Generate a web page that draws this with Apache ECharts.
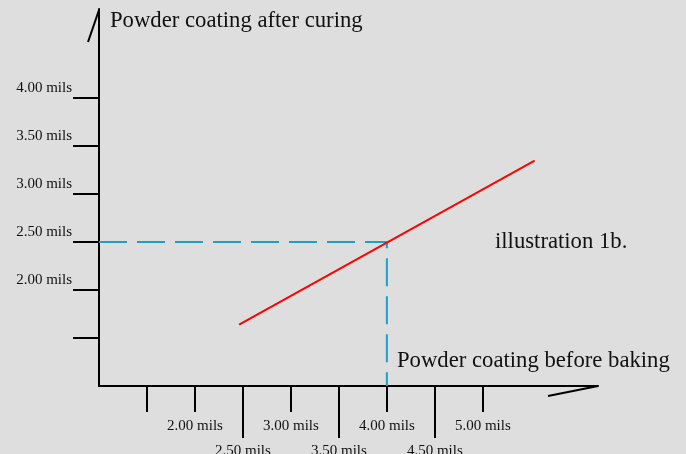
<!DOCTYPE html>
<html>
<head>
<meta charset="utf-8">
<script src="https://cdn.jsdelivr.net/npm/echarts@6/dist/echarts.min.js"></script>
<style>
html, body { margin: 0; padding: 0; background: #dedede; }
#main { width: 686px; height: 454px; }
</style>
</head>
<body>
<div id="main"></div>
<script>
// coating thickness, mils
const beforeBaking = [2.46, 5.54];
const afterCuring = [1.64, 3.35];
const guideX = [1.0, 4.0, 4.0];
const guideY = [2.5, 2.5, 1.0];

const xShortTicks = [1.5, 2.0, 3.0, 4.0, 5.0];
const xShortLabels = [2.0, 3.0, 4.0, 5.0];
const xLongTicks = [2.5, 3.5, 4.5];
const yTicks = [1.5, 2.0, 2.5, 3.0, 3.5, 4.0];
const yLabels = [2.0, 2.5, 3.0, 3.5, 4.0];

const chart = echarts.init(document.getElementById('main'));
const serif = 'Liberation Serif';
const mils = function (v) { return v.toFixed(2) + ' mils'; };

const pair = function (xs, ys) {
    let out = [];
    for (let i = 0; i < xs.length; i++) out.push([xs[i], ys[i]]);
    return out;
};

const baseX = {
    type: 'value',
    position: 'bottom',
    min: 1,
    max: 6.2,
    splitLine: { show: false },
    axisLine: { show: false }
};

option = {
    backgroundColor: '#dedede',
    animation: false,
    grid: { left: 99, right: 88, top: 9, bottom: 68, outerBoundsMode: 'none', containLabel: false },
    xAxis: [
        Object.assign({}, baseX, {
            axisLine: { show: true, lineStyle: { color: '#000', width: 2 } },
            axisTick: { show: true, length: 26, customValues: xShortTicks, lineStyle: { color: '#000', width: 2 } },
            axisLabel: {
                customValues: xShortLabels, margin: 33, formatter: mils,
                color: '#111', fontFamily: serif, fontSize: 15, verticalAlign: 'top'
            }
        }),
        Object.assign({}, baseX, {
            axisTick: { show: true, length: 52, customValues: xLongTicks, lineStyle: { color: '#000', width: 2 } },
            axisLabel: {
                customValues: xLongTicks, margin: 58, formatter: mils,
                color: '#111', fontFamily: serif, fontSize: 15, verticalAlign: 'top'
            }
        })
    ],
    yAxis: {
        type: 'value',
        min: 1,
        max: 4.93,
        splitLine: { show: false },
        axisLine: { show: true, lineStyle: { color: '#000', width: 2 } },
        axisTick: { show: true, length: 26, customValues: yTicks, lineStyle: { color: '#000', width: 2 } },
        axisLabel: {
            customValues: yLabels, margin: 27, formatter: mils,
            color: '#111', fontFamily: serif, fontSize: 15,
            verticalAlign: 'bottom', padding: [0, 0, 3, 0]
        }
    },
    series: [
        {
            type: 'line',
            data: pair(guideX, guideY),
            symbol: 'none',
            lineStyle: { color: '#1ba1c9', width: 2, type: [28, 10] }
        },
        {
            type: 'line',
            data: pair(beforeBaking, afterCuring),
            symbol: 'none',
            lineStyle: { color: '#ff0000', width: 2 }
        }
    ],
    graphic: [
        { type: 'line', shape: { x1: 88, y1: 42, x2: 99, y2: 10 }, style: { stroke: '#000', lineWidth: 2 } },
        { type: 'line', shape: { x1: 548, y1: 396, x2: 598, y2: 386 }, style: { stroke: '#000', lineWidth: 2 } },
        { type: 'text', left: 110, top: 10, style: { text: 'Powder coating after curing', font: '22.7px "Liberation Serif"', fill: '#111' } },
        { type: 'text', left: 397, top: 350, style: { text: 'Powder coating before baking', font: '22.7px "Liberation Serif"', fill: '#111' } },
        { type: 'text', left: 495, top: 231, style: { text: 'illustration 1b.', font: '22.7px "Liberation Serif"', fill: '#111' } }
    ]
};
chart.setOption(option);
</script>
</body>
</html>
